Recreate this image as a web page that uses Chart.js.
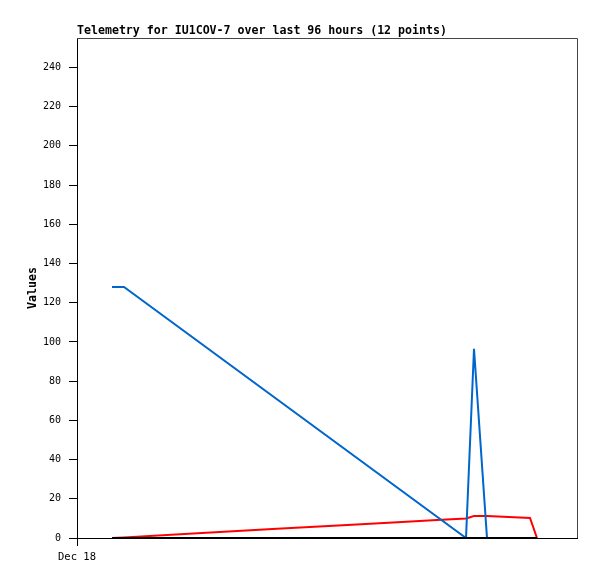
<!DOCTYPE html>
<html>
<head>
<meta charset="utf-8">
<script src="https://cdn.jsdelivr.net/npm/chart.js@4"></script>
<style>
  html, body { margin: 0; padding: 0; background: #fff; }
  #wrap { width: 597px; height: 579px; }
</style>
</head>
<body>
<div id="wrap"><canvas id="telemetryChart" width="597" height="579"></canvas></div>
<script>
// hours since Dec 18 00:00
const hours = [7.0, 9.4, 25, 40, 55, 65, 72, 77.8, 79.4, 82, 90.6, 92];
const blueValues = [128, 128, null, null, null, null, null, 0, 96.5, 0, 0, 0];
const redValues = [0, 0.3, 2.5, 4.7, 6.8, 8.2, 9.2, 10.0, 11.2, 11.2, 10.2, 0];
const blackValues = [0, 0, 0, 0, 0, 0, 0, 0, 0, 0, 0, 0];
const yTicks = [0, 20, 40, 60, 80, 100, 120, 140, 160, 180, 200, 220, 240];
const xTickLabels = ['Dec 18'];
const chartTitle = 'Telemetry for IU1COV-7 over last 96 hours (12 points)';

const toPoints = vals => hours.map((h, i) => ({ x: h, y: vals[i] }));

const frameAndTitle = {
    id: 'frameAndTitle',
    afterDraw(chart) {
        const ctx = chart.ctx;
        const a = chart.chartArea;
        ctx.save();
        ctx.strokeStyle = '#444';
        ctx.lineWidth = 1;
        ctx.beginPath();
        ctx.moveTo(a.left, a.top + 0.5);
        ctx.lineTo(a.right + 0.5, a.top + 0.5);
        ctx.lineTo(a.right + 0.5, a.bottom);
        ctx.stroke();
        ctx.fillStyle = '#000';
        ctx.font = 'bold 11.6px "DejaVu Sans Mono"';
        ctx.textBaseline = 'alphabetic';
        ctx.textAlign = 'left';
        ctx.fillText(chartTitle, 77, 34);
        ctx.restore();
    }
};

const ctx = document.getElementById('telemetryChart').getContext('2d');
new Chart(ctx, {
    type: 'line',
    data: {
        datasets: [
            { data: toPoints(blackValues), borderColor: '#000000', borderWidth: 2, order: 0 },
            { data: toPoints(blueValues), borderColor: '#0066cc', borderWidth: 2, order: 1, spanGaps: true },
            { data: toPoints(redValues), borderColor: '#ff0000', borderWidth: 2, order: 2 }
        ]
    },
    options: {
        responsive: false,
        animation: false,
        events: [],
        elements: { point: { radius: 0 }, line: { tension: 0 } },
        layout: { padding: { top: 38, right: 20, bottom: 0, left: 0 } },
        plugins: { legend: { display: false }, tooltip: { enabled: false }, title: { display: false } },
        scales: {
            x: {
                type: 'linear',
                min: 0,
                max: 100,
                afterBuildTicks: scale => { scale.ticks = [{ value: 0 }]; },
                afterFit: scale => { scale.height = 41; },
                ticks: {
                    color: '#000',
                    font: { family: 'DejaVu Sans Mono', size: 10.5 },
                    padding: 5,
                    maxRotation: 0,
                    callback: (v, i) => xTickLabels[i]
                },
                grid: { drawOnChartArea: false, tickLength: 8, color: '#000' },
                border: { color: '#000', width: 1 }
            },
            y: {
                min: 0,
                max: 255,
                afterBuildTicks: scale => { scale.ticks = yTicks.map(v => ({ value: v })); },
                afterFit: scale => { scale.width = 77; },
                ticks: {
                    color: '#000',
                    font: { family: 'DejaVu Sans Mono', size: 10 },
                    padding: 8
                },
                grid: { drawOnChartArea: false, tickLength: 8, color: '#000' },
                border: { color: '#000', width: 1 },
                title: {
                    display: true,
                    text: 'Values',
                    color: '#000',
                    font: { family: 'DejaVu Sans Mono', size: 11.6, weight: 'bold' },
                    padding: { top: 26, bottom: 0 }
                }
            }
        }
    },
    plugins: [frameAndTitle]
});
</script>
</body>
</html>
